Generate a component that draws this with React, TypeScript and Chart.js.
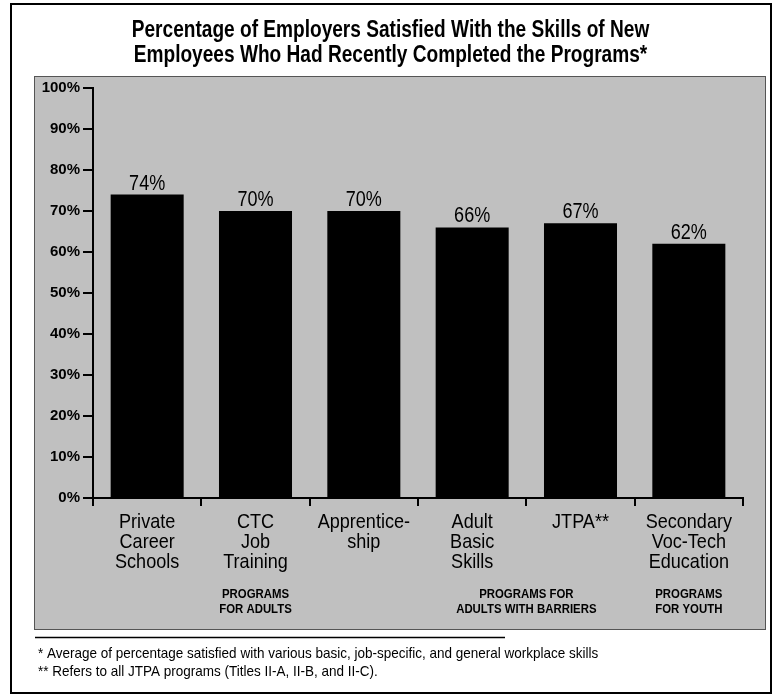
import React, { useEffect, useRef } from 'react';
import { Chart, registerables } from 'chart.js';

Chart.register(...registerables);

const TITLE_LINES = [
  'Percentage of Employers Satisfied With the Skills of New',
  'Employees Who Had Recently Completed the Programs*',
];
const CATEGORIES = [
  ['Private', 'Career', 'Schools'],
  ['CTC', 'Job', 'Training'],
  ['Apprentice-', 'ship'],
  ['Adult', 'Basic', 'Skills'],
  ['JTPA**'],
  ['Secondary', 'Voc-Tech', 'Education'],
];
const VALUES = [74, 70, 70, 66, 67, 62];
const Y_TICKS = [0, 10, 20, 30, 40, 50, 60, 70, 80, 90, 100];
const GROUP_LABELS = [
  ['PROGRAMS', 'FOR ADULTS'],
  ['PROGRAMS FOR', 'ADULTS WITH BARRIERS'],
  ['PROGRAMS', 'FOR YOUTH'],
];
const GROUP_FIRST = [0, 3, 5];
const GROUP_LAST = [2, 4, 5];
const FOOTNOTES = [
  '* Average of percentage satisfied with various basic, job-specific, and general workplace skills',
  '** Refers to all JTPA programs (Titles II-A, II-B, and II-C).',
];

const FAMILY = '"Liberation Sans", Arial, sans-serif';
const W = 777;
const H = 697;

function narrowText(ctx: any, text: string, x: number, y: number, sx: number) {
  ctx.save();
  ctx.translate(x, y);
  ctx.scale(sx, 1);
  ctx.fillText(text, 0, 0);
  ctx.restore();
}

const decorPlugin = {
  id: 'decor',
  beforeDraw(chart: any) {
    const ctx = chart.ctx;
    ctx.save();
    ctx.fillStyle = '#ffffff';
    ctx.fillRect(0, 0, W, H);
    ctx.strokeStyle = '#000';
    ctx.lineWidth = 2;
    ctx.strokeRect(11, 4, 760, 689);
    ctx.fillStyle = '#c0c0c0';
    ctx.fillRect(34, 76, 732, 554);
    ctx.lineWidth = 1;
    ctx.strokeStyle = '#555';
    ctx.strokeRect(34.5, 76.5, 731, 553);
    // title
    ctx.fillStyle = '#000';
    ctx.textAlign = 'center';
    ctx.textBaseline = 'middle';
    ctx.font = `bold 23px ${FAMILY}`;
    TITLE_LINES.forEach((t, k) => narrowText(ctx, t, W / 2 + 2, 31 + k * 25, 0.83));
    ctx.restore();
  },
  afterDatasetsDraw(chart: any) {
    const ctx = chart.ctx;
    const meta = chart.getDatasetMeta(0);
    ctx.save();
    ctx.fillStyle = '#000';
    ctx.font = `22px ${FAMILY}`;
    ctx.textAlign = 'center';
    ctx.textBaseline = 'alphabetic';
    meta.data.forEach((bar: any, i: number) => {
      narrowText(ctx, `${VALUES[i]}%`, bar.x, bar.y - 5, 0.82);
    });
    ctx.restore();
  },
  afterDraw(chart: any) {
    const ctx = chart.ctx;
    const xs = chart.scales.x;
    ctx.save();
    ctx.fillStyle = '#000';
    ctx.textAlign = 'center';
    ctx.textBaseline = 'middle';
    ctx.font = `21px ${FAMILY}`;
    (chart.data.labels as string[][]).forEach((lines, i) => {
      const cx = xs.getPixelForTick(i);
      lines.forEach((t, k) => narrowText(ctx, t, cx, 522 + k * 20, 0.86));
    });
    ctx.font = `bold 12px ${FAMILY}`;
    GROUP_LABELS.forEach((lines, g) => {
      const cx = (xs.getPixelForValue(GROUP_FIRST[g]) + xs.getPixelForValue(GROUP_LAST[g])) / 2;
      lines.forEach((t, k) => narrowText(ctx, t, cx, 595 + k * 15, 0.95));
    });
    ctx.strokeStyle = '#000';
    ctx.lineWidth = 1.5;
    ctx.beginPath();
    ctx.moveTo(35, 637.5);
    ctx.lineTo(505, 637.5);
    ctx.stroke();
    ctx.textAlign = 'left';
    ctx.font = `15px ${FAMILY}`;
    FOOTNOTES.forEach((t, k) => narrowText(ctx, t, 38, 654 + k * 18, 0.9));
    ctx.restore();
  },
};

export default function App() {
  const ref = useRef<HTMLCanvasElement | null>(null);
  useEffect(() => {
    if (!ref.current) return;
    const chart = new Chart(ref.current, {
      type: 'bar',
      data: {
        labels: CATEGORIES,
        datasets: [
          {
            data: VALUES,
            backgroundColor: '#000000',
            borderWidth: 0,
            barPercentage: 0.674,
            categoryPercentage: 1,
          },
        ],
      },
      options: {
        animation: false,
        responsive: false,
        maintainAspectRatio: false,
        layout: { padding: { left: 35, right: 34, top: 88, bottom: 0 } },
        plugins: {
          legend: { display: false },
          tooltip: { enabled: false },
          title: { display: false },
        },
        scales: {
          x: {
            offset: true,
            grid: {
              offset: true,
              drawOnChartArea: false,
              drawTicks: true,
              tickLength: 8,
              color: '#000',
              lineWidth: 2,
            },
            border: { display: true, color: '#000', width: 2 },
            ticks: { display: false },
            afterFit: (s: any) => {
              s.height = H - 498;
            },
          },
          y: {
            min: 0,
            max: 100,
            afterBuildTicks: (s: any) => {
              s.ticks = Y_TICKS.map((v) => ({ value: v }));
            },
            grid: {
              drawOnChartArea: false,
              drawTicks: true,
              tickLength: 10,
              color: '#000',
              lineWidth: 2,
            },
            border: { display: true, color: '#000', width: 2 },
            ticks: {
              color: '#000',
              font: { family: FAMILY, size: 15, weight: 'bold' },
              padding: 3,
              callback: (v: any) => `${v}%`,
            },
            afterFit: (s: any) => {
              s.width = 58;
            },
          },
        },
      },
      plugins: [decorPlugin],
    });
    return () => chart.destroy();
  }, []);
  return (
    <div style={{ position: 'fixed', left: 0, top: 0, width: W, height: H, background: '#fff' }}>
      <canvas ref={ref} width={W} height={H} style={{ width: W, height: H, display: 'block' }} />
    </div>
  );
}
